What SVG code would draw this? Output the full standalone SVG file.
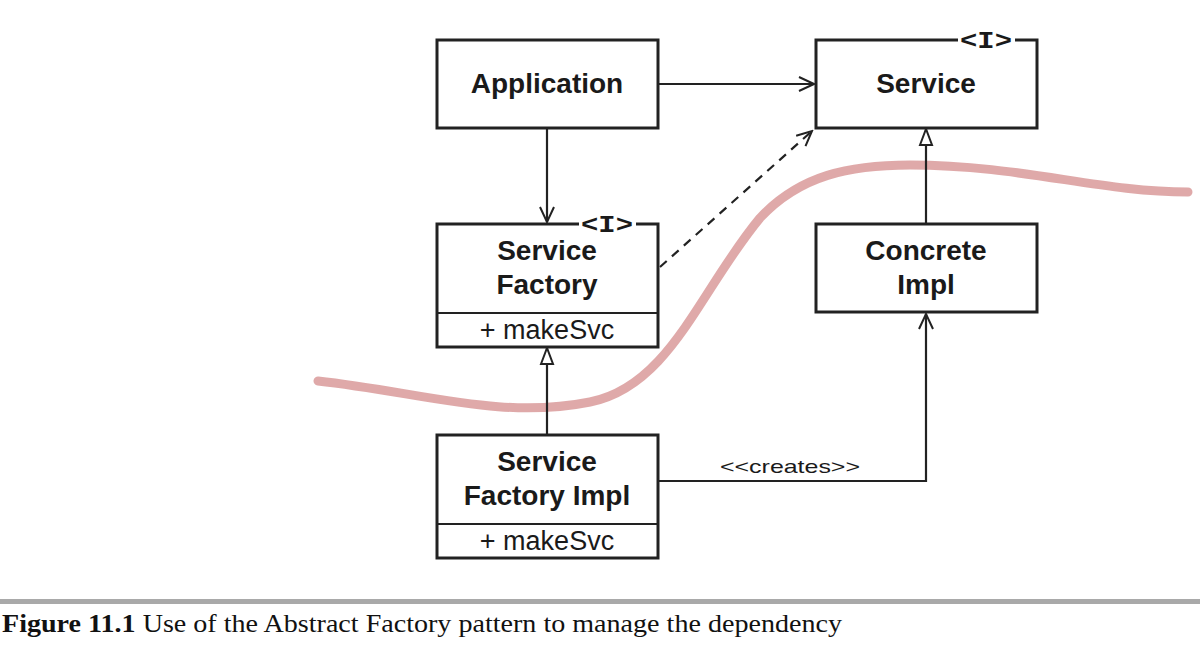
<svg xmlns="http://www.w3.org/2000/svg" width="1200" height="658" viewBox="0 0 1200 658">
<style>
.box{fill:#fff;stroke:#222;stroke-width:3}
.ln{fill:none;stroke:#222;stroke-width:2.2}
.t{font-family:"Liberation Sans",Arial,sans-serif;font-weight:bold;font-size:28px;fill:#1a1a1a;text-anchor:middle}
.m{font-family:"Liberation Sans",Arial,sans-serif;font-size:27px;fill:#1a1a1a;text-anchor:middle}
.iface{font-family:"Liberation Mono","DejaVu Sans Mono",monospace;font-weight:bold;font-size:24px;fill:#1a1a1a;text-anchor:middle}
</style>
<defs>
<marker id="open" markerWidth="18" markerHeight="16" refX="16" refY="8" orient="auto" markerUnits="userSpaceOnUse">
<path d="M1,1 L16,8 L1,15" fill="none" stroke="#222" stroke-width="2"/>
</marker>
<marker id="tri" markerWidth="18" markerHeight="18" refX="17" refY="8" orient="auto" markerUnits="userSpaceOnUse">
<path d="M1,2 L17,8 L1,14 Z" fill="#fff" stroke="#222" stroke-width="2"/>
</marker>
</defs>
<rect width="1200" height="658" fill="#fff"/>
<path d="M318,381 C420,392 500,420 590,402 C670,386 700,290 760,218 C800,175 850,165 910,165 C1020,165 1100,192 1188,192" fill="none" stroke="#d99a9a" stroke-opacity="0.85" stroke-width="9" stroke-linecap="round"/>
<g id="connectors">
<line class="ln" x1="658" y1="84" x2="814" y2="84" marker-end="url(#open)"/>
<line class="ln" x1="547" y1="128" x2="547" y2="222" marker-end="url(#open)"/>
<line class="ln" x1="660" y1="267" x2="812" y2="131" stroke-dasharray="9,7" marker-end="url(#open)"/>
<line class="ln" x1="926" y1="224" x2="926" y2="129" marker-end="url(#tri)"/>
<line class="ln" x1="547" y1="435" x2="547" y2="348" marker-end="url(#tri)"/>
<polyline class="ln" points="658,481 926,481 926,314" marker-end="url(#open)"/>
<text x="790" y="473" font-family="'Liberation Sans',Arial,sans-serif" font-size="19" fill="#1a1a1a" text-anchor="middle" textLength="140" lengthAdjust="spacingAndGlyphs">&lt;&lt;creates&gt;&gt;</text>
</g>
<g id="application">
<rect class="box" x="437" y="40" width="221" height="88"/>
<text class="t" x="547" y="93">Application</text>
</g>
<g id="service">
<rect class="box" x="816" y="40" width="221" height="88"/>
<rect x="958" y="34" width="57" height="12" fill="#fff"/>
<text class="iface" x="986" y="48" textLength="52" lengthAdjust="spacingAndGlyphs">&lt;I&gt;</text>
<text class="t" x="926" y="93">Service</text>
</g>
<g id="service-factory">
<rect class="box" x="437" y="224" width="221" height="123"/>
<line class="ln" x1="437" y1="313" x2="658" y2="313" stroke-width="3"/>
<rect x="579" y="218" width="57" height="12" fill="#fff"/>
<text class="iface" x="607" y="232" textLength="52" lengthAdjust="spacingAndGlyphs">&lt;I&gt;</text>
<text class="t" x="547" y="260">Service</text>
<text class="t" x="547" y="294">Factory</text>
<text class="m" x="547" y="339">+ makeSvc</text>
</g>
<g id="concrete-impl">
<rect class="box" x="816" y="224" width="221" height="88"/>
<text class="t" x="926" y="260">Concrete</text>
<text class="t" x="926" y="294">Impl</text>
</g>
<g id="service-factory-impl">
<rect class="box" x="437" y="435" width="221" height="123"/>
<line class="ln" x1="437" y1="524" x2="658" y2="524" stroke-width="3"/>
<text class="t" x="547" y="471">Service</text>
<text class="t" x="547" y="505">Factory Impl</text>
<text class="m" x="547" y="550">+ makeSvc</text>
</g>
<g id="caption">
<rect x="0" y="599" width="1200" height="5" fill="#a9a9a9"/>
<text x="2" y="632" font-family="'Liberation Serif','Times New Roman',serif" font-size="25" fill="#111" textLength="840" lengthAdjust="spacingAndGlyphs"><tspan font-weight="bold">Figure 11.1</tspan> Use of the Abstract Factory pattern to manage the dependency</text>
</g>
</svg>
